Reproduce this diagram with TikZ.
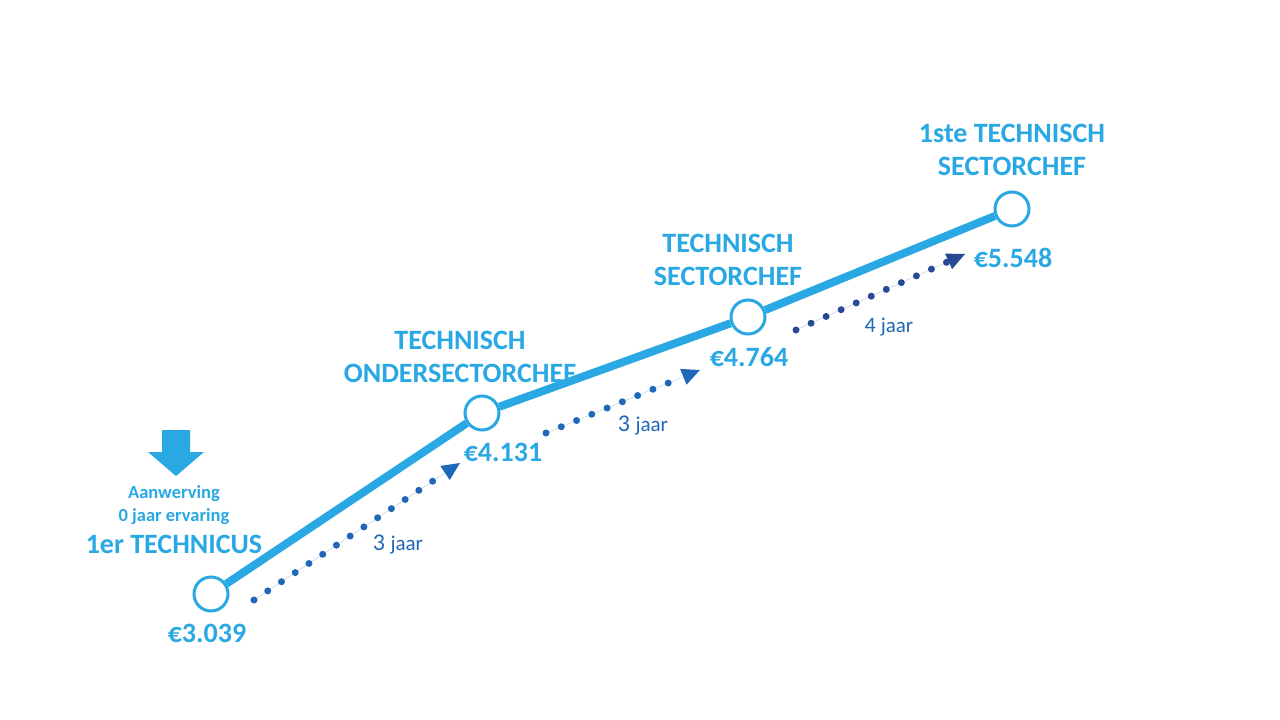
\documentclass[tikz,border=0pt]{standalone}
\usepackage{fontspec}
\setmainfont{Carlito}
\usetikzlibrary{arrows.meta}
\definecolor{lblue}{RGB}{41,168,228}
\definecolor{dblue}{RGB}{31,104,184}
\definecolor{nblue}{RGB}{40,74,150}
\tikzset{
  stage/.style={circle,draw=lblue,line width=3pt,fill=white,minimum size=34pt,inner sep=0pt},
  path/.style={draw=lblue,line width=8pt},
  dots/.style={line width=7pt,line cap=round,dash pattern=on 0pt off 16.5pt,-{Triangle[length=18pt,width=17pt,line width=0pt]}},
  title/.style={text=lblue,font=\bfseries\fontsize{28}{33}\selectfont,align=center},
  price/.style={text=lblue,font=\bfseries\fontsize{28}{30}\selectfont},
  yrs/.style={text=dblue},
  small/.style={text=lblue,font=\bfseries\fontsize{18.5}{23}\selectfont,align=center}
}
\begin{document}
\begin{tikzpicture}[x=1pt,y=-1pt]
\useasboundingbox[fill=white] (0,0) rectangle (1280,720);
\node[stage] (n1) at (211,594) {};
\node[stage] (n2) at (482,413) {};
\node[stage] (n3) at (748,317) {};
\node[stage] (n4) at (1012,209) {};
\draw[path] (n1) -- (n2);
\draw[path] (n2) -- (n3);
\draw[path] (n3) -- (n4);
% dotted arrows
\coordinate (a1s) at (254,600); \coordinate (a1e) at (460,463);
\coordinate (a2s) at (546,433); \coordinate (a2e) at (700,370);
\coordinate (a3s) at (796,330); \coordinate (a3e) at (965,254);
\draw[dots,draw=dblue,fill=dblue] (a1s) -- (a1e);
\draw[dots,draw=dblue,fill=dblue] (a2s) -- (a2e);
\draw[dots,draw=nblue,fill=nblue] (a3s) -- (a3e);
\node[yrs] (y1) at (398,545) {\fontsize{24}{24}\selectfont 3 \fontsize{21}{24}\selectfont jaar};
\node[yrs] (y2) at (643,426) {\fontsize{24}{24}\selectfont 3 \fontsize{21}{24}\selectfont jaar};
\node[yrs] (y3) at (889,327) {\fontsize{22}{24}\selectfont 4 \fontsize{21}{24}\selectfont jaar};
% prices
\node[price] (p1) at (207,633) {€3.039};
\node[price] (p2) at (503,452) {€4.131};
\node[price] (p3) at (749,357) {€4.764};
\node[price] (p4) at (1013,258) {€5.548};
% titles
\node[title] (t2) at (460,357) {TECHNISCH\\ONDERSECTORCHEF};
\node[title] (t3) at (728,260) {TECHNISCH\\SECTORCHEF};
\node[title] (t4) at (1012,150) {1ste TECHNISCH\\SECTORCHEF};
\node[small] (s1) at (174,505) {Aanwerving\\0 jaar ervaring};
\node[title] (t1) at (174,544) {1er TECHNICUS};
% down arrow
\fill[lblue] (162,430) -- (190,430) -- (190,452) -- (204,452) -- (176,476) -- (148,452) -- (162,452) -- cycle;
\end{tikzpicture}
\end{document}
